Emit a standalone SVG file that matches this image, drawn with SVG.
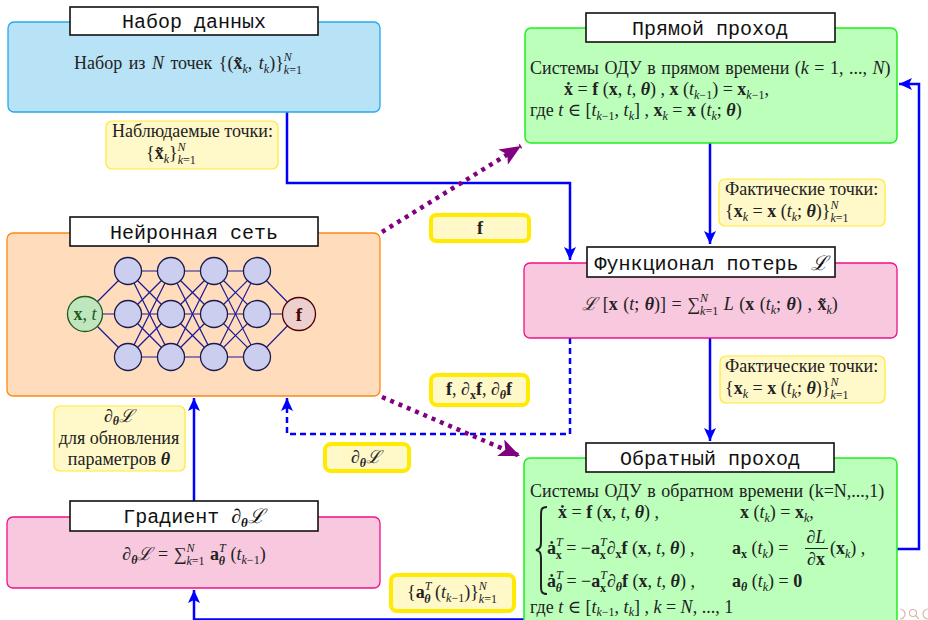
<svg xmlns="http://www.w3.org/2000/svg" width="928" height="620" viewBox="0 0 928 620">
<style>
.t{font-family:"Liberation Serif","DejaVu Serif",serif;font-size:18px;fill:#222}
.i{font-style:italic}
.b{font-weight:bold}
.bi{font-weight:bold;font-style:italic}
.s{font-size:12px}
.ttl{font-family:"Liberation Mono","DejaVu Sans Mono",monospace;font-size:20px;fill:#111;text-anchor:middle}
.tbox{fill:#fff;stroke:#111;stroke-width:1.6}
.blue{fill:#b8e3f7;stroke:#22aaee;stroke-width:1.3}
.green{fill:#bbffbb;stroke:#22ee22;stroke-width:1.5}
.pink{fill:#f8c8de;stroke:#ee1188;stroke-width:1.3}
.orange{fill:#ffdcbc;stroke:#ff8811;stroke-width:1.3}
.lab{fill:#fff8c8;stroke:#ffe930;stroke-width:1.2}
.labk{fill:#fff8c8;stroke:#ffea00;stroke-width:4}
.con{fill:none;stroke:#0000ff;stroke-width:2.5}
.dash{stroke-dasharray:6 4}
.pur{fill:none;stroke:#800080;stroke-width:4.5;stroke-dasharray:4 5}
.hid{fill:#cccef0;stroke:#1a1a4d;stroke-width:1.3}
.edge{stroke:#1a1a99;stroke-width:1.2}
</style>
<defs>
<marker id="ab" markerUnits="userSpaceOnUse" markerWidth="14" markerHeight="12" refX="13" refY="6" orient="auto"><path d="M0,0 L13,6 L0,12 L3,6 z" fill="#0000ff"/></marker>
<marker id="ap" markerUnits="userSpaceOnUse" markerWidth="22" markerHeight="18" refX="21" refY="9" orient="auto"><path d="M0,0 L21,9 L0,18 L5,9 z" fill="#800080"/></marker>
</defs>

<g id="connectors">
<path class="con" d="M287,112 V183 H570 V260" marker-end="url(#ab)"/>
<path class="con" d="M710,143 V244" marker-end="url(#ab)"/>
<path class="con" d="M710,338 V441" marker-end="url(#ab)"/>
<path class="con" d="M897,549 H919 V84 H899" marker-end="url(#ab)"/>
<path class="con dash" d="M570,338 V434 H287 V398" marker-end="url(#ab)"/>
<path class="con" d="M194,501 V398" marker-end="url(#ab)"/>
<path class="con" d="M524,619.5 H194 V590" marker-end="url(#ab)"/>
<path class="pur" d="M382,232 L521,146" marker-end="url(#ap)"/>
<path class="pur" d="M382,397 L520,456" marker-end="url(#ap)"/>
</g>

<g id="dataset">
<rect class="blue" x="8" y="22" width="372" height="90" rx="6"/>
<rect class="tbox" x="70" y="7" width="248" height="28"/>
<text class="ttl" x="194" y="28">Набор данных</text>
<text class="t" x="74" y="69" word-spacing="2">Набор из <tspan class="i">N</tspan> точек {(<tspan class="b">x̃</tspan><tspan class="i s" dy="4">k</tspan><tspan dy="-4">, </tspan><tspan class="i">t</tspan><tspan class="i s" dy="4">k</tspan><tspan dy="-4">)}</tspan><tspan class="i s" dy="-8">N</tspan><tspan class="s" dx="-8" dy="13"><tspan class="i">k</tspan>=1</tspan></text>
</g>

<g id="label-observed">
<rect class="lab" x="106" y="121" width="172" height="48" rx="6"/>
<text class="t" x="112" y="137">Наблюдаемые точки:</text>
<text class="t" x="146" y="159">{<tspan class="b">x̃</tspan><tspan class="i s" dy="4">k</tspan><tspan dy="-4">}</tspan><tspan class="i s" dy="-8">N</tspan><tspan class="s" dx="-8" dy="13"><tspan class="i">k</tspan>=1</tspan></text>
</g>

<g id="forward">
<rect class="green" x="525" y="28" width="372" height="115" rx="6"/>
<rect class="tbox" x="586" y="13" width="249" height="29"/>
<text class="ttl" x="710" y="35">Прямой проход</text>
<text class="t" x="530" y="74" word-spacing="1">Системы ОДУ в прямом времени (<tspan class="i">k</tspan> = 1, ..., <tspan class="i">N</tspan>)</text>
<text class="t" x="564" y="95"><tspan class="b">ẋ</tspan> = <tspan class="b">f</tspan> (<tspan class="b">x</tspan>, <tspan class="i">t</tspan>, <tspan class="bi">θ</tspan>) , <tspan class="b">x</tspan> (<tspan class="i">t</tspan><tspan class="s" dy="4"><tspan class="i">k</tspan>−1</tspan><tspan dy="-4">) = </tspan><tspan class="b">x</tspan><tspan class="s" dy="4"><tspan class="i">k</tspan>−1</tspan><tspan dy="-4">,</tspan></text>
<text class="t" x="530" y="116">где <tspan class="i">t</tspan> ∈ [<tspan class="i">t</tspan><tspan class="s" dy="4"><tspan class="i">k</tspan>−1</tspan><tspan dy="-4">, </tspan><tspan class="i">t</tspan><tspan class="i s" dy="4">k</tspan><tspan dy="-4">] , </tspan><tspan class="b">x</tspan><tspan class="i s" dy="4">k</tspan><tspan dy="-4"> = </tspan><tspan class="b">x</tspan> (<tspan class="i">t</tspan><tspan class="i s" dy="4">k</tspan><tspan dy="-4">; </tspan><tspan class="bi">θ</tspan>)</text>
</g>

<g id="label-actual-1">
<rect class="lab" x="719" y="179" width="166" height="47" rx="6"/>
<text class="t" x="725" y="195">Фактические точки:</text>
<text class="t" x="725" y="217">{<tspan class="b">x</tspan><tspan class="i s" dy="4">k</tspan><tspan dy="-4"> = </tspan><tspan class="b">x</tspan> (<tspan class="i">t</tspan><tspan class="i s" dy="4">k</tspan><tspan dy="-4">; </tspan><tspan class="bi">θ</tspan>)}<tspan class="i s" dy="-8">N</tspan><tspan class="s" dx="-8" dy="13"><tspan class="i">k</tspan>=1</tspan></text>
</g>

<g id="nn">
<rect class="orange" x="7" y="233" width="373" height="163" rx="6"/>
<rect class="tbox" x="70" y="217" width="248" height="29"/>
<text class="ttl" x="194" y="239">Нейронная сеть</text>
<g>
<line class="edge" x1="85" y1="314" x2="128" y2="271"/><line class="edge" x1="85" y1="314" x2="128" y2="314"/><line class="edge" x1="85" y1="314" x2="128" y2="357"/>
<line class="edge" x1="128" y1="271" x2="171" y2="271"/><line class="edge" x1="128" y1="271" x2="171" y2="314"/><line class="edge" x1="128" y1="271" x2="171" y2="357"/>
<line class="edge" x1="128" y1="314" x2="171" y2="271"/><line class="edge" x1="128" y1="314" x2="171" y2="314"/><line class="edge" x1="128" y1="314" x2="171" y2="357"/>
<line class="edge" x1="128" y1="357" x2="171" y2="271"/><line class="edge" x1="128" y1="357" x2="171" y2="314"/><line class="edge" x1="128" y1="357" x2="171" y2="357"/>
<line class="edge" x1="171" y1="271" x2="214" y2="271"/><line class="edge" x1="171" y1="271" x2="214" y2="314"/><line class="edge" x1="171" y1="271" x2="214" y2="357"/>
<line class="edge" x1="171" y1="314" x2="214" y2="271"/><line class="edge" x1="171" y1="314" x2="214" y2="314"/><line class="edge" x1="171" y1="314" x2="214" y2="357"/>
<line class="edge" x1="171" y1="357" x2="214" y2="271"/><line class="edge" x1="171" y1="357" x2="214" y2="314"/><line class="edge" x1="171" y1="357" x2="214" y2="357"/>
<line class="edge" x1="214" y1="271" x2="257" y2="271"/><line class="edge" x1="214" y1="271" x2="257" y2="314"/><line class="edge" x1="214" y1="271" x2="257" y2="357"/>
<line class="edge" x1="214" y1="314" x2="257" y2="271"/><line class="edge" x1="214" y1="314" x2="257" y2="314"/><line class="edge" x1="214" y1="314" x2="257" y2="357"/>
<line class="edge" x1="214" y1="357" x2="257" y2="271"/><line class="edge" x1="214" y1="357" x2="257" y2="314"/><line class="edge" x1="214" y1="357" x2="257" y2="357"/>
<line class="edge" x1="257" y1="271" x2="299" y2="314"/><line class="edge" x1="257" y1="314" x2="299" y2="314"/><line class="edge" x1="257" y1="357" x2="299" y2="314"/>
</g>
<circle class="hid" cx="128" cy="271" r="13.5"/><circle class="hid" cx="128" cy="314" r="13.5"/><circle class="hid" cx="128" cy="357" r="13.5"/>
<circle class="hid" cx="171" cy="271" r="13.5"/><circle class="hid" cx="171" cy="314" r="13.5"/><circle class="hid" cx="171" cy="357" r="13.5"/>
<circle class="hid" cx="214" cy="271" r="13.5"/><circle class="hid" cx="214" cy="314" r="13.5"/><circle class="hid" cx="214" cy="357" r="13.5"/>
<circle class="hid" cx="257" cy="271" r="13.5"/><circle class="hid" cx="257" cy="314" r="13.5"/><circle class="hid" cx="257" cy="357" r="13.5"/>
<circle cx="85" cy="314" r="17.5" fill="#c0e6c0" stroke="#1a5c1a" stroke-width="1.3"/>
<text class="t" x="85" y="320" text-anchor="middle" style="fill:#1a5c1a;font-size:18px"><tspan class="b">x</tspan>, <tspan class="i">t</tspan></text>
<circle cx="299" cy="314" r="16.5" fill="#eccfcf" stroke="#4d0000" stroke-width="1.3"/>
<text class="t b" x="299" y="320.5" text-anchor="middle" style="fill:#4d0000;font-size:19px">f</text>
</g>

<g id="label-f">
<rect class="labk" x="431" y="215" width="98" height="26" rx="5"/>
<text class="t b" x="480" y="234" text-anchor="middle">f</text>
</g>

<g id="loss">
<rect class="pink" x="524" y="263" width="373" height="75" rx="6"/>
<rect class="tbox" x="587" y="247" width="248" height="30"/>
<text class="ttl" x="711" y="270">Функционал потерь <tspan font-family="Liberation Serif,DejaVu Serif,serif" font-style="italic">ℒ</tspan></text>
<text class="t" x="710" y="310" text-anchor="middle" word-spacing="1"><tspan class="i">ℒ</tspan> [<tspan class="b">x</tspan> (<tspan class="i">t</tspan>; <tspan class="bi">θ</tspan>)] = ∑<tspan class="i s" dy="-8">N</tspan><tspan class="s" dx="-8" dy="13"><tspan class="i">k</tspan>=1</tspan><tspan dy="-5"> </tspan><tspan class="i">L</tspan> (<tspan class="b">x</tspan> (<tspan class="i">t</tspan><tspan class="i s" dy="4">k</tspan><tspan dy="-4">; </tspan><tspan class="bi">θ</tspan>) , <tspan class="b">x̃</tspan><tspan class="i s" dy="4">k</tspan><tspan dy="-4">)</tspan></text>
</g>

<g id="label-actual-2">
<rect class="lab" x="720" y="356" width="165" height="47" rx="6"/>
<text class="t" x="725" y="372">Фактические точки:</text>
<text class="t" x="725" y="394">{<tspan class="b">x</tspan><tspan class="i s" dy="4">k</tspan><tspan dy="-4"> = </tspan><tspan class="b">x</tspan> (<tspan class="i">t</tspan><tspan class="i s" dy="4">k</tspan><tspan dy="-4">; </tspan><tspan class="bi">θ</tspan>)}<tspan class="i s" dy="-8">N</tspan><tspan class="s" dx="-8" dy="13"><tspan class="i">k</tspan>=1</tspan></text>
</g>

<g id="label-derivs">
<rect class="labk" x="431" y="375" width="97" height="30" rx="6"/>
<text class="t" x="479" y="395" text-anchor="middle"><tspan class="b">f</tspan>, <tspan class="i">∂</tspan><tspan class="b s" dy="4">x</tspan><tspan class="b" dy="-4">f</tspan>, <tspan class="i">∂</tspan><tspan class="bi s" dy="4">θ</tspan><tspan class="b" dy="-4">f</tspan></text>
</g>

<g id="label-grad-small">
<rect class="labk" x="325" y="444" width="84" height="27" rx="6"/>
<text class="t" x="366" y="463" text-anchor="middle"><tspan class="i">∂</tspan><tspan class="bi s" dy="4">θ</tspan><tspan class="i" dy="-4">ℒ</tspan></text>
</g>

<g id="label-update">
<rect class="lab" x="54" y="406" width="131" height="65" rx="6"/>
<text class="t" x="119" y="422" text-anchor="middle"><tspan class="i">∂</tspan><tspan class="bi s" dy="3">θ</tspan><tspan class="i" dy="-3">ℒ</tspan></text>
<text class="t" x="119" y="444" text-anchor="middle">для обновления</text>
<text class="t" x="119" y="465" text-anchor="middle">параметров <tspan class="bi">θ</tspan></text>
</g>

<g id="gradient">
<rect class="pink" x="7" y="517" width="373" height="71" rx="6"/>
<rect class="tbox" x="70" y="501" width="248" height="30"/>
<text class="ttl" x="194" y="523">Градиент <tspan font-family="Liberation Serif,DejaVu Serif,serif" font-style="italic">∂</tspan><tspan font-family="Liberation Serif,DejaVu Serif,serif" font-style="italic" font-weight="bold" font-size="13" dy="4">θ</tspan><tspan font-family="Liberation Serif,DejaVu Serif,serif" font-style="italic" dy="-4">ℒ</tspan></text>
<text class="t" x="194" y="560" text-anchor="middle" word-spacing="1"><tspan class="i">∂</tspan><tspan class="bi s" dy="4">θ</tspan><tspan class="i" dy="-4">ℒ</tspan> = ∑<tspan class="i s" dy="-8">N</tspan><tspan class="s" dx="-8" dy="13"><tspan class="i">k</tspan>=1</tspan><tspan class="b" dy="-5"> a</tspan><tspan class="i s" dy="-8">T</tspan><tspan class="bi s" dx="-7" dy="13">θ</tspan><tspan dy="-5"> (</tspan><tspan class="i">t</tspan><tspan class="s" dy="4"><tspan class="i">k</tspan>−1</tspan><tspan dy="-4">)</tspan></text>
</g>

<g id="label-adjoint">
<rect class="labk" x="391" y="575" width="123" height="36" rx="6"/>
<text class="t" x="452" y="598" text-anchor="middle">{<tspan class="b">a</tspan><tspan class="i s" dy="-8">T</tspan><tspan class="bi s" dx="-7" dy="13">θ</tspan><tspan dy="-5"> (</tspan><tspan class="i">t</tspan><tspan class="s" dy="4"><tspan class="i">k</tspan>−1</tspan><tspan dy="-4">)}</tspan><tspan class="i s" dy="-8">N</tspan><tspan class="s" dx="-8" dy="13"><tspan class="i">k</tspan>=1</tspan></text>
</g>

<g id="backward">
<rect class="green" x="524" y="458" width="373" height="175" rx="6"/>
<rect class="tbox" x="586" y="443" width="248" height="29"/>
<text class="ttl" x="710" y="465">Обратный проход</text>
<text class="t" x="530" y="497" word-spacing="1">Системы ОДУ в обратном времени  (k=N,...,1)</text>
<path d="M547,507 C541,507 541,510 541,516 L541,542 C541,547 540,549 536,550 C540,551 541,553 541,558 L541,585 C541,591 541,594 547,594" fill="none" stroke="#222" stroke-width="2"/>
<text class="t" x="558" y="518"><tspan class="b">ẋ</tspan> = <tspan class="b">f</tspan> (<tspan class="b">x</tspan>, <tspan class="i">t</tspan>, <tspan class="bi">θ</tspan>) ,</text>
<text class="t" x="740" y="518"><tspan class="b">x</tspan> (<tspan class="i">t</tspan><tspan class="i s" dy="4">k</tspan><tspan dy="-4">) = </tspan><tspan class="b">x</tspan><tspan class="i s" dy="4">k</tspan><tspan dy="-4">,</tspan></text>
<text class="t" x="547" y="554"><tspan class="b">ȧ</tspan><tspan class="i s" dy="-8">T</tspan><tspan class="b s" dx="-7" dy="13">x</tspan><tspan dy="-5"> = −</tspan><tspan class="b">a</tspan><tspan class="i s" dy="-8">T</tspan><tspan class="b s" dx="-7" dy="13">x</tspan><tspan class="i" dx="1" dy="-5">∂</tspan><tspan class="b s" dy="4">x</tspan><tspan class="b" dy="-4">f</tspan> (<tspan class="b">x</tspan>, <tspan class="i">t</tspan>, <tspan class="bi">θ</tspan>) ,</text>
<text class="t" x="732" y="554"><tspan class="b">a</tspan><tspan class="b s" dy="4">x</tspan><tspan dy="-4"> (</tspan><tspan class="i">t</tspan><tspan class="i s" dy="4">k</tspan><tspan dy="-4">) =</tspan></text>
<text class="t" x="816" y="543" text-anchor="middle"><tspan class="i">∂L</tspan></text>
<line x1="805" y1="548.5" x2="828" y2="548.5" stroke="#222" stroke-width="1"/>
<text class="t" x="816" y="565" text-anchor="middle"><tspan class="i">∂</tspan><tspan class="b">x</tspan></text>
<text class="t" x="830" y="554">(<tspan class="b">x</tspan><tspan class="i s" dy="4">k</tspan><tspan dy="-4">) ,</tspan></text>
<text class="t" x="547" y="587"><tspan class="b">ȧ</tspan><tspan class="i s" dy="-8">T</tspan><tspan class="bi s" dx="-7" dy="13">θ</tspan><tspan dy="-5"> = −</tspan><tspan class="b">a</tspan><tspan class="i s" dy="-8">T</tspan><tspan class="b s" dx="-7" dy="13">x</tspan><tspan class="i" dx="1" dy="-5">∂</tspan><tspan class="bi s" dy="4">θ</tspan><tspan class="b" dy="-4">f</tspan> (<tspan class="b">x</tspan>, <tspan class="i">t</tspan>, <tspan class="bi">θ</tspan>) ,</text>
<text class="t" x="732" y="587"><tspan class="b">a</tspan><tspan class="bi s" dy="4">θ</tspan><tspan dy="-4"> (</tspan><tspan class="i">t</tspan><tspan class="i s" dy="4">k</tspan><tspan dy="-4">) = </tspan><tspan class="b">0</tspan></text>
<text class="t" x="530" y="613">где  <tspan class="i">t</tspan> ∈ [<tspan class="i">t</tspan><tspan class="s" dy="3"><tspan class="i">k</tspan>−1</tspan><tspan dy="-3">, </tspan><tspan class="i">t</tspan><tspan class="i s" dy="3">k</tspan><tspan dy="-3">] , </tspan><tspan class="i">k</tspan> = <tspan class="i">N</tspan>, ..., 1</text>
</g>

<g id="nav" fill="none" stroke="#d8b8a8" stroke-width="1.2">
<path d="M900,609 A5,5 0 1 1 900,619"/>
<circle cx="913" cy="613" r="3.5"/>
<path d="M915.5,615.5 L919,619"/>
<path d="M928,609 A5,5 0 0 0 928,619"/>
</g>
</svg>
